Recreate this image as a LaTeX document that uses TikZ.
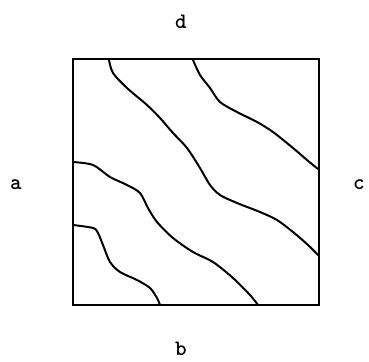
\documentclass[tikz,border=0pt]{standalone}
\usepackage{fontspec}
\begin{document}
\begin{tikzpicture}[x=1pt,y=-1pt,
  lbl/.style={font=\ttfamily\bfseries\fontsize{22}{22}\selectfont, inner sep=0pt},
  contour/.style={line width=2pt, line cap=round, line join=round}]
\useasboundingbox (0,0) rectangle (369,361);
\draw[line width=2.2pt] (73,59) rectangle (319,305);
\node[lbl] (d) at (181,22) {d};
\node[lbl] (b) at (181,349) {b};
\node[lbl] (a) at (16,185) {a};
\node[lbl] (c) at (359,185) {c};
\draw[contour] plot[smooth, tension=0.5] coordinates {(109,60) (113,73) (127,88) (147,105) (160,118) (173,133) (187,148) (200,168) (210,185) (220,195) (237,203) (260,212) (277,220) (293,232) (308,245) (319,256)};
\draw[contour] plot[smooth, tension=0.5] coordinates {(193,60) (200,75) (210,88) (220,102) (237,112) (257,122) (273,132) (293,148) (307,160) (318,169)};
\draw[contour] plot[smooth, tension=0.5] coordinates {(73,162) (93,165) (110,177) (127,185) (140,193) (148,208) (157,222) (173,238) (193,252) (213,262) (233,278) (250,295) (258,305)};
\draw[contour] plot[smooth, tension=0.5] coordinates {(73,225) (93,228) (98,233) (103,245) (110,262) (120,272) (137,280) (150,288) (157,298) (160,305)};
\end{tikzpicture}
\end{document}
